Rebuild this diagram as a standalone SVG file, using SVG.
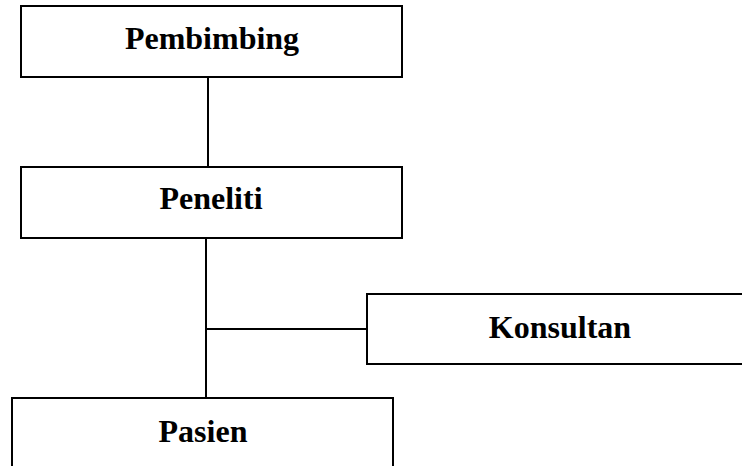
<svg xmlns="http://www.w3.org/2000/svg" width="742" height="466" viewBox="0 0 742 466">
<style>
.box{fill:#fff;stroke:#000;stroke-width:2}
.lbl{font-family:"Liberation Serif","Times New Roman",serif;font-weight:bold;font-size:32px;text-anchor:middle;fill:#000}
.conn{stroke:#000;stroke-width:2;fill:none}
</style>
<rect width="742" height="466" fill="#fff"/>
<g id="connectors">
<line class="conn" x1="208" y1="73" x2="208" y2="177"/>
<line class="conn" x1="206" y1="233" x2="206" y2="398"/>
<line class="conn" x1="206" y1="329" x2="367" y2="329"/>
</g>
<g id="pembimbing">
<rect class="box" x="21" y="6" width="381" height="71"/>
<text class="lbl" x="212" y="49">Pembimbing</text>
</g>
<g id="peneliti">
<rect class="box" x="21" y="167" width="381" height="71"/>
<text class="lbl" x="211" y="209">Peneliti</text>
</g>
<g id="konsultan">
<rect class="box" x="367" y="294" width="390" height="70"/>
<text class="lbl" x="560" y="338">Konsultan</text>
</g>
<g id="pasien">
<rect class="box" x="12" y="398" width="381" height="80"/>
<text class="lbl" x="203" y="442">Pasien</text>
</g>
</svg>
